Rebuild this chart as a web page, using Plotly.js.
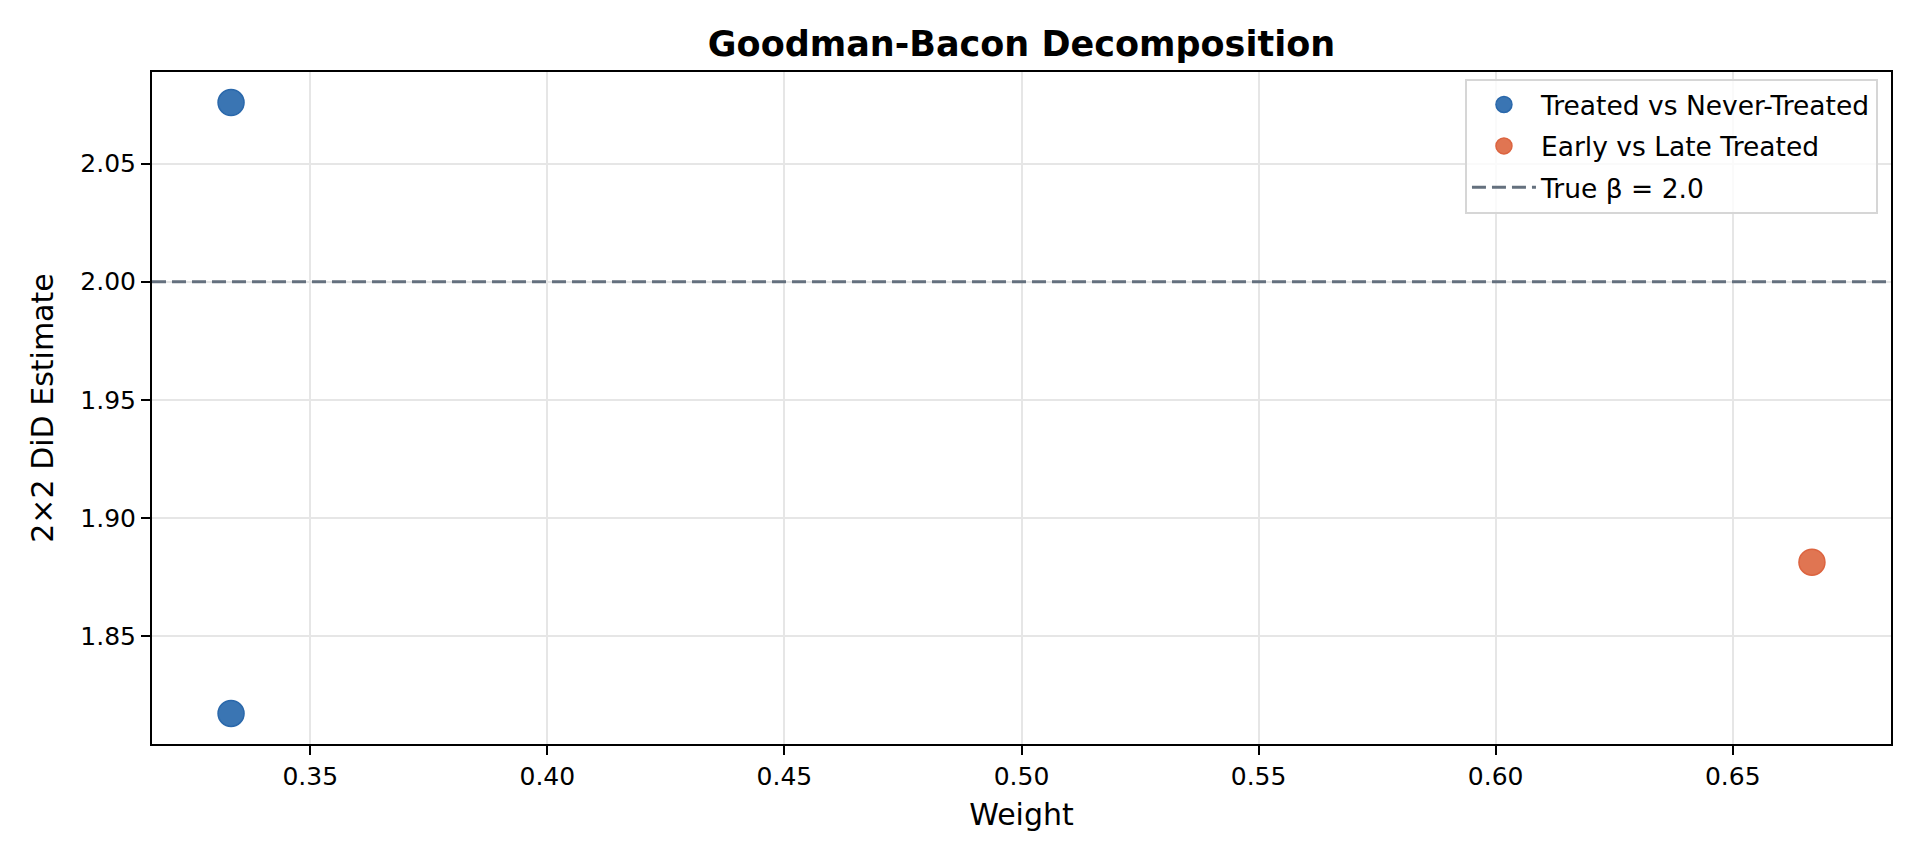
<!DOCTYPE html>
<html>
<head>
<meta charset="utf-8">
<script src="https://cdn.plot.ly/plotly-3.0.1.min.js"></script>
<style>
  html, body { margin: 0; padding: 0; background: #fff; }
  #chart { width: 1920px; height: 864px; }
</style>
</head>
<body>
<div id="chart"></div>
<script>
  // Goodman-Bacon 2x2 comparisons
  var tvnWeights = [0.3333, 0.3333];
  var tvnEstimates = [2.0758, 1.8173];
  var elWeights = [0.6667];
  var elEstimates = [1.8813];
  var trueBeta = 2.0;

  var seriesNames = ['Treated vs Never-Treated', 'Early vs Late Treated', 'True \u03b2 = 2.0'];

  // matplotlib-style 5% padding around the data
  function padRange(vals) {
    var lo = Math.min.apply(null, vals), hi = Math.max.apply(null, vals);
    var m = (hi - lo) * 0.05;
    return [lo - m, hi + m];
  }
  var xRange = padRange(tvnWeights.concat(elWeights));
  var yRange = padRange(tvnEstimates.concat(elEstimates));

  var blue = '#3a75b3';
  var orange = '#e07552';
  var slate = '#64707e';

  var traces = [
    {
      x: tvnWeights, y: tvnEstimates, name: seriesNames[0], legendgroup: 'a',
      type: 'scatter', mode: 'markers',
      marker: { size: 26, color: blue, line: { color: '#2a68ab', width: 1.5 } }
    },
    {
      x: elWeights, y: elEstimates, name: seriesNames[1], legendgroup: 'b',
      type: 'scatter', mode: 'markers',
      marker: { size: 26, color: orange, line: { color: '#dc6440', width: 1.5 } }
    },
    {
      x: xRange, y: [trueBeta, trueBeta], name: seriesNames[2], legendgroup: 'c',
      type: 'scatter', mode: 'lines', cliponaxis: true,
      line: { color: slate, width: 3, dash: '14px,6px' }
    }
  ];

  var axisCommon = {
    showline: true, linecolor: '#000', linewidth: 2, mirror: true,
    ticks: 'outside', ticklen: 9, tickwidth: 2, tickcolor: '#000',
    showgrid: true, gridcolor: '#e6e6e6', gridwidth: 2,
    zeroline: false, tickfont: { size: 25, color: '#000' },
    tickformat: '.2f', dtick: 0.05, tick0: 0
  };

  var layout = {
    width: 1920, height: 864,
    font: { family: 'DejaVu Sans', color: '#000' },
    paper_bgcolor: '#fff', plot_bgcolor: '#fff',
    margin: { l: 152, r: 29, t: 72, b: 120 },
    title: {
      text: 'Goodman-Bacon Decomposition',
      font: { size: 35, weight: 'bold', color: '#000' },
      x: 0.5, xref: 'paper', y: 1 - 44 / 864, yref: 'container', yanchor: 'middle'
    },
    xaxis: Object.assign({}, axisCommon, {
      range: xRange,
      title: { text: 'Weight', font: { size: 30 }, standoff: 14 }
    }),
    yaxis: Object.assign({}, axisCommon, {
      range: yRange,
      title: { text: '2\u00d72 DiD Estimate', font: { size: 30 }, standoff: 18 }
    }),
    showlegend: true,
    legend: {
      x: 0.9925, y: 0.99, xanchor: 'right', yanchor: 'top',
      bgcolor: 'rgba(255,255,255,0.8)', bordercolor: '#d6d6d6', borderwidth: 2,
      font: { size: 26.5, color: '#000' },
      itemwidth: 64, tracegroupgap: 4
    }
  };

  Plotly.newPlot('chart', traces, layout, { displayModeBar: false, staticPlot: true });
</script>
</body>
</html>
